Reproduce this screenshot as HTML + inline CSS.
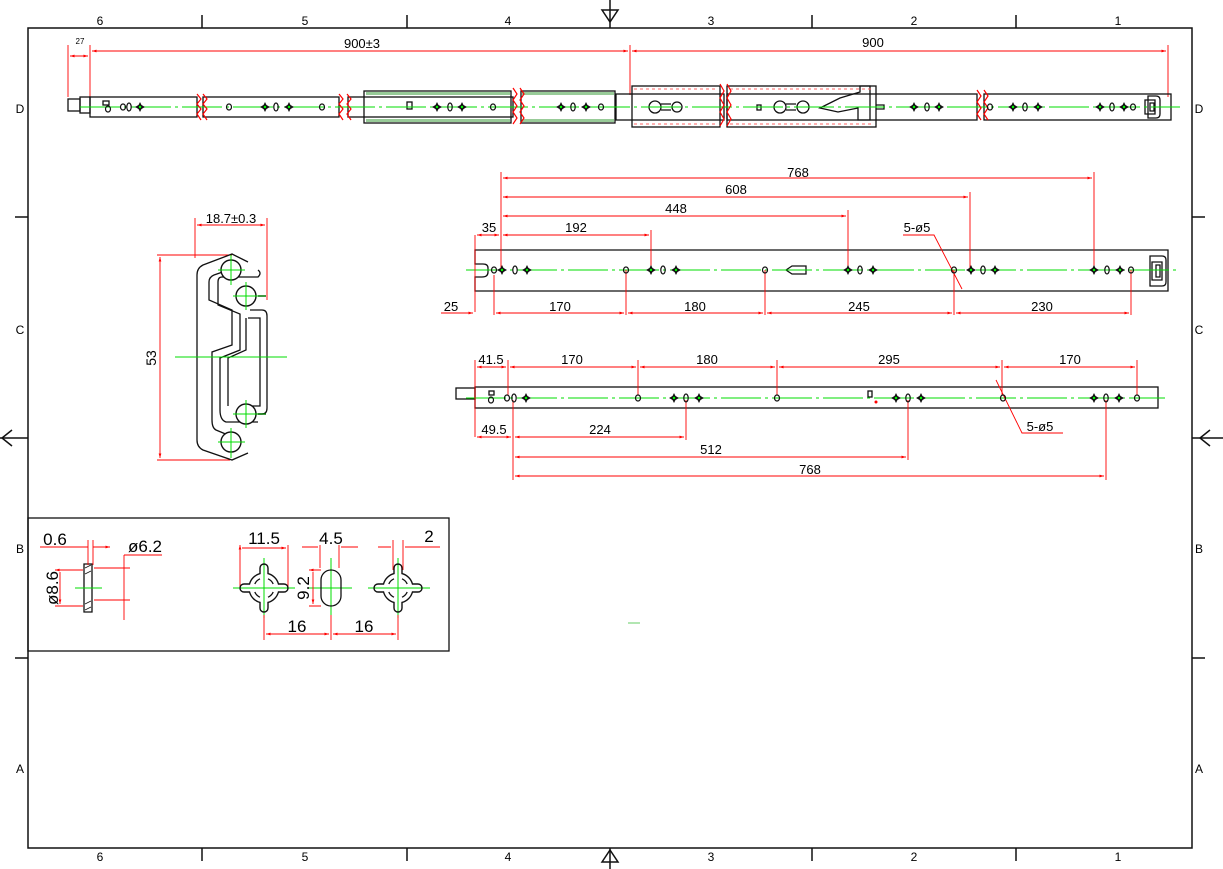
<!DOCTYPE html>
<html><head><meta charset="utf-8"><style>
html,body{margin:0;padding:0;background:#fff}
svg{display:block}
text{font-family:"Liberation Sans",sans-serif;fill:#000}
.k{stroke:#111;fill:none;stroke-width:1.3}
.r{stroke:#f00;fill:none;stroke-width:0.9}
.g{stroke:#0d0;fill:none;stroke-width:1;}
.gd{stroke:#0d0;fill:none;stroke-width:1;stroke-dasharray:40 4 3 4}
</style></head><body>
<svg width="1223" height="869" viewBox="0 0 1223 869" xmlns="http://www.w3.org/2000/svg">
<defs>
<g id="x"><path d="M0,-5 L1.5,-2 L5,0 L1.5,2 L0,5 L-1.5,2 L-5,0 L-1.5,-2Z" fill="#111"/><circle r="1.2" fill="#0f0"/></g>
<g id="o"><ellipse rx="2.5" ry="3" fill="none" stroke="#111" stroke-width="1.2"/></g>
<g id="s"><ellipse rx="2.2" ry="4" fill="none" stroke="#111" stroke-width="1.2"/></g>
<marker id="a" viewBox="0 0 10 10" refX="10" refY="5" markerWidth="7" markerHeight="5" orient="auto-start-reverse"><path d="M0,2 L10,5 L0,8Z" fill="#f00"/></marker>
<g id="ch">
<path d="M4,-14.46 L4,-20 A4,4 0 0 0 -4,-20 L-4,-14.46 A15,15 0 0 0 -14.46,-4 L-20,-4 A4,4 0 0 0 -20,4 L-14.46,4 A15,15 0 0 0 -4,14.46 L-4,20 A4,4 0 0 0 4,20 L4,14.46 A15,15 0 0 0 14.46,4 L20,4 A4,4 0 0 0 20,-4 L14.46,-4 A15,15 0 0 0 4,-14.46Z" fill="none" stroke="#111" stroke-width="1.4"/>
<path d="M4,-9.2 A10,10 0 0 1 9.2,-4 M9.2,4 A10,10 0 0 1 4,9.2 M-4,9.2 A10,10 0 0 1 -9.2,4 M-9.2,-4 A10,10 0 0 1 -4,-9.2" fill="none" stroke="#111" stroke-width="1.3"/>
</g>
</defs>

<!-- frame -->
<g stroke="#111" stroke-width="1.5" fill="none">
<rect x="28" y="28" width="1164" height="820"/>
<path d="M202,15V28 M407,15V28 M812,15V28 M1016,15V28 M202,848V861 M407,848V861 M812,848V861 M1016,848V861 M15,217H28 M15,658H28 M1192,217H1205 M1192,658H1205"/>
<path d="M610,0V28 M610,848V869 M0,438H28 M1192,438H1223"/>
<path d="M602,10 L610,22 L618,10Z M602,862 L610,850 L618,862Z M12,430 L2,438 L12,446 M1210,430 L1200,438 L1210,446"/>
</g>
<g font-size="12" text-anchor="middle">
<text x="100" y="25">6</text><text x="305" y="25">5</text><text x="508" y="25">4</text><text x="711" y="25">3</text><text x="914" y="25">2</text><text x="1118" y="25">1</text>
<text x="100" y="861">6</text><text x="305" y="861">5</text><text x="508" y="861">4</text><text x="711" y="861">3</text><text x="914" y="861">2</text><text x="1118" y="861">1</text>
<text x="20" y="113">D</text><text x="20" y="334">C</text><text x="20" y="553">B</text><text x="20" y="773">A</text>
<text x="1199" y="113">D</text><text x="1199" y="334">C</text><text x="1199" y="553">B</text><text x="1199" y="773">A</text>
</g>

<!-- TOP RAIL -->
<g class="r">
<path d="M68,45V97 M90,45V97 M630,45V95 M1168,45V97"/>
<path d="M70,56H88" marker-start="url(#a)" marker-end="url(#a)"/>
<path d="M92,51H628" marker-start="url(#a)" marker-end="url(#a)"/>
<path d="M632,51H1166" marker-start="url(#a)" marker-end="url(#a)"/>
</g>
<text x="80" y="44" font-size="8" text-anchor="middle">27</text>
<text x="362" y="48" font-size="13" text-anchor="middle">900±3</text>
<text x="873" y="47" font-size="13" text-anchor="middle">900</text>
<g class="k">
<rect x="68" y="99" width="12" height="12"/><rect x="80" y="97" width="10" height="16"/>
<rect x="90" y="97" width="107" height="20"/>
<rect x="203" y="97" width="136" height="20"/>
<rect x="348" y="97" width="165" height="20"/>
<rect x="364" y="91" width="147" height="32"/>
<rect x="521" y="91" width="94" height="32"/>
<rect x="616" y="94" width="108" height="26"/>
<rect x="632" y="86" width="88" height="41"/>
<rect x="727" y="86" width="149" height="41"/>
<rect x="727" y="94" width="250" height="26"/>
<rect x="984" y="94" width="187" height="26"/>
<path d="M1148,96 h8 q4,0 4,4 v14 q0,4 -4,4 h-8z M1145,100 h10 v14 h-10z M1150,103 h4 v8 h-4z"/>
<rect x="103" y="101" width="6" height="4"/>
<rect x="407" y="102" width="5" height="7"/>
<rect x="757" y="105" width="4" height="5"/>
<circle cx="655" cy="107" r="6"/><path d="M661,104 h10 M661,110 h10"/><circle cx="677" cy="107" r="5"/>
<circle cx="780" cy="107" r="6"/><path d="M786,104 h10 M786,110 h10"/><circle cx="803" cy="107" r="6"/>
<path d="M820,108 l20,-10 l20,-6 l0,-6 l10,0 l0,34 l-12,0 l0,-12 l-20,4z"/>
<path d="M876,105 h8 v4 h-8"/>
</g>
<g fill="#5a5" opacity=".6"><rect x="366" y="92" width="144" height="3"/><rect x="366" y="119" width="144" height="3"/><rect x="522" y="92" width="92" height="3"/><rect x="522" y="119" width="92" height="3"/></g>
<g stroke="#f66" stroke-dasharray="3 3"><path d="M634,89H718 M634,124H718 M730,89H874 M730,124H874"/></g>
<path class="gd" d="M80,107H1180"/>
<g stroke="#f00" stroke-width="1.2" fill="none">
<path d="M197,94 l4,5 -4,5 4,5 -4,5 4,6 M203,94 l4,5 -4,5 4,5 -4,5 4,6"/>
<path d="M339,94 l4,5 -4,5 4,5 -4,5 4,6 M347,94 l4,5 -4,5 4,5 -4,5 4,6"/>
<path d="M513,88 l4,6 -4,6 4,6 -4,6 4,6 -4,6 M520,88 l4,6 -4,6 4,6 -4,6 4,6 -4,6"/>
<path d="M720,84 l4,7 -4,7 4,7 -4,7 4,7 -4,7 M727,84 l4,7 -4,7 4,7 -4,7 4,7 -4,7"/>
<path d="M977,90 l4,6 -4,6 4,6 -4,6 4,6 M984,90 l4,6 -4,6 4,6 -4,6 4,6"/>
</g>
<use href="#o" x="108" y="109"/><use href="#o" x="123" y="107"/><use href="#s" x="129" y="107"/><use href="#x" x="140" y="107"/>
<use href="#o" x="229" y="107"/><use href="#x" x="265" y="107"/><use href="#s" x="276" y="107"/><use href="#x" x="289" y="107"/><use href="#o" x="322" y="107"/>
<use href="#x" x="437" y="107"/><use href="#s" x="450" y="107"/><use href="#x" x="462" y="107"/><use href="#o" x="493" y="107"/>
<use href="#x" x="561" y="107"/><use href="#s" x="573" y="107"/><use href="#x" x="586" y="107"/><use href="#o" x="601" y="107"/>
<use href="#x" x="914" y="107"/><use href="#s" x="927" y="107"/><use href="#x" x="939" y="107"/>
<use href="#o" x="990" y="107"/><use href="#x" x="1013" y="107"/><use href="#s" x="1025" y="107"/><use href="#x" x="1038" y="107"/>
<use href="#x" x="1100" y="107"/><use href="#s" x="1112" y="107"/><use href="#x" x="1124" y="107"/><use href="#o" x="1133" y="107"/>

<!-- PROFILE -->
<g class="r">
<path d="M195,218V258 M267,218V300 M157,255H232 M157,460H230"/>
<path d="M197,225H265" marker-start="url(#a)" marker-end="url(#a)"/>
<path d="M160,257V458" marker-start="url(#a)" marker-end="url(#a)"/>
</g>
<text x="231" y="223" font-size="13" text-anchor="middle">18.7±0.3</text>
<text x="156" y="358" font-size="14" text-anchor="middle" transform="rotate(-90 156 358)">53</text>
<g class="k" stroke-width="1.6">
<path d="M248,262 L232,254 L203,265 Q197,268 197,275 V440 Q197,447 203,450 L232,460 L248,453"/>
<path d="M240,266 L214,275 Q209,277 209,282 V300 L232,310 V345 L212,352 V420 Q212,428 216,430 L240,440"/>
<path d="M258,270 Q262,273 258,277 L222,277 Q218,277 218,282 V305 L240,314 V350 L220,358 V410 Q220,420 226,422 L258,422"/>
<path d="M250,310 L262,310 Q267,310 267,316 V408 Q267,414 262,414 L250,414"/>
<path d="M248,318 L260,318 V406 L248,406 M228,406 V358 L246,350 V318"/>
</g>
<g stroke="#111" stroke-width="1.4" fill="#fff">
<circle cx="231" cy="270" r="10"/><circle cx="246" cy="296" r="10"/><circle cx="246" cy="414" r="10"/><circle cx="231" cy="442" r="10"/>
</g>
<g class="g"><path d="M175,357H287 M231,255V285 M218,270H245 M246,282V310 M233,296H262 M246,400V428 M233,414H262 M231,428V458 M218,442H245"/></g>
<path d="M258,296h8 M258,414h8" stroke="#070" stroke-width="1.4"/>

<!-- RAIL 1 -->
<g class="k">
<path d="M475,250H1168V291H475V277 L482,277 Q488,277 488,272 V268 Q488,264 483,264 H475Z"/>
<path d="M1150,256 h12 q4,0 4,4 v22 q0,4 -4,4 h-12z M1152,262 h10 v18 h-10z M1156,265 h4 v12 h-4z"/>
<path d="M786,270 l6,-4 h14 v8 h-14z"/>
</g>
<path class="gd" d="M466,270H1176"/>
<g class="r">
<path d="M475,235V312 M501,172V268 M651,230V268 M848,210V268 M970,192V268 M1094,172V268 M494,275V315 M626,270V315 M765,270V315 M954,270V315 M1131,270V315"/>
<path d="M503,178H1092" marker-start="url(#a)" marker-end="url(#a)"/>
<path d="M503,197H968" marker-start="url(#a)" marker-end="url(#a)"/>
<path d="M503,216H846" marker-start="url(#a)" marker-end="url(#a)"/>
<path d="M503,235H649" marker-start="url(#a)" marker-end="url(#a)"/>
<path d="M477,235H499" marker-start="url(#a)" marker-end="url(#a)"/>
<path d="M441,313H473" marker-end="url(#a)"/>
<path d="M496,313H624" marker-start="url(#a)" marker-end="url(#a)"/>
<path d="M628,313H763" marker-start="url(#a)" marker-end="url(#a)"/>
<path d="M767,313H952" marker-start="url(#a)" marker-end="url(#a)"/>
<path d="M956,313H1129" marker-start="url(#a)" marker-end="url(#a)"/>
<path d="M903,235H934 L962,289"/>
</g>
<g font-size="13" text-anchor="middle">
<text x="798" y="177">768</text><text x="736" y="194">608</text><text x="676" y="213">448</text><text x="576" y="232">192</text><text x="489" y="232">35</text>
<text x="451" y="311">25</text><text x="560" y="311">170</text><text x="695" y="311">180</text><text x="859" y="311">245</text><text x="1042" y="311">230</text>
<text x="917" y="232">5-ø5</text>
</g>
<use href="#o" x="494" y="270"/><use href="#x" x="502" y="270"/><use href="#s" x="515" y="270"/><use href="#x" x="527" y="270"/>
<use href="#o" x="626" y="270"/><use href="#x" x="651" y="270"/><use href="#s" x="663" y="270"/><use href="#x" x="676" y="270"/>
<use href="#o" x="765" y="270"/>
<use href="#x" x="848" y="270"/><use href="#s" x="860" y="270"/><use href="#x" x="873" y="270"/>
<use href="#o" x="954" y="270"/><use href="#x" x="971" y="270"/><use href="#s" x="983" y="270"/><use href="#x" x="995" y="270"/>
<use href="#x" x="1094" y="270"/><use href="#s" x="1107" y="270"/><use href="#x" x="1120" y="270"/><use href="#o" x="1131" y="270"/>

<!-- RAIL 2 -->
<g class="k">
<rect x="456" y="388" width="19" height="11"/>
<rect x="475" y="387" width="683" height="21"/>
<rect x="489" y="391" width="5" height="4"/>
<rect x="868" y="391" width="4" height="6"/>
</g>
<path class="gd" d="M466,398H1165"/>
<g class="r">
<path d="M475,360V437 M508,360V395 M638,360V395 M777,360V395 M1002,360V395 M1137,360V395 M513,400V480 M686,400V440 M908,400V460 M1106,400V480"/>
<path d="M477,367H506" marker-start="url(#a)" marker-end="url(#a)"/>
<path d="M510,367H636" marker-start="url(#a)" marker-end="url(#a)"/>
<path d="M640,367H775" marker-start="url(#a)" marker-end="url(#a)"/>
<path d="M779,367H1000" marker-start="url(#a)" marker-end="url(#a)"/>
<path d="M1004,367H1135" marker-start="url(#a)" marker-end="url(#a)"/>
<path d="M477,437H511" marker-start="url(#a)" marker-end="url(#a)"/>
<path d="M515,437H684" marker-start="url(#a)" marker-end="url(#a)"/>
<path d="M515,457H906" marker-start="url(#a)" marker-end="url(#a)"/>
<path d="M515,476H1104" marker-start="url(#a)" marker-end="url(#a)"/>
<path d="M996,380 L1022,433 H1063"/>
</g>
<g font-size="13" text-anchor="middle">
<text x="491" y="364">41.5</text><text x="572" y="364">170</text><text x="707" y="364">180</text><text x="889" y="364">295</text><text x="1070" y="364">170</text>
<text x="494" y="434">49.5</text><text x="600" y="434">224</text><text x="711" y="454">512</text><text x="810" y="474">768</text>
<text x="1040" y="431">5-ø5</text>
</g>
<use href="#o" x="491" y="400"/><use href="#o" x="507" y="398"/><use href="#s" x="514" y="398"/><use href="#x" x="526" y="398"/>
<use href="#o" x="638" y="398"/><use href="#x" x="674" y="398"/><use href="#s" x="686" y="398"/><use href="#x" x="699" y="398"/>
<use href="#o" x="777" y="398"/>
<use href="#x" x="896" y="398"/><use href="#s" x="908" y="398"/><use href="#x" x="921" y="398"/>
<use href="#o" x="1003" y="398"/>
<use href="#x" x="1094" y="398"/><use href="#s" x="1106" y="398"/><use href="#x" x="1119" y="398"/><use href="#o" x="1137" y="398"/>
<circle cx="876" cy="402" r="1.5" fill="#f00"/>

<!-- DETAIL BOX -->
<rect x="28" y="518" width="421" height="133" fill="none" stroke="#111" stroke-width="1.3"/>
<g class="k">
<path d="M84,564 H92 V612 H84Z"/>
</g>
<g stroke="#111" stroke-width="0.8"><path d="M85,568 l6,-3 M85,574 l6,-3 M85,604 l6,-3 M85,610 l6,-3"/></g>
<g class="g"><path d="M75,588H102 M264,558V618 M233,588H295 M331,558V615 M308,588H352 M398,558V618 M368,588H430"/></g>
<g class="r">
<path d="M40,547H88 M93,547H110" marker-end="url(#a)"/>
<path d="M88,540V565 M93,540V565"/>
<path d="M124,555H162 M124,555V620" />
<path d="M94,568H130 M94,600H130"/>
<path d="M55,570H83 M55,606H83 M60,572V604" marker-start="url(#a)" marker-end="url(#a)"/>
<path d="M240,545V588 M288,545V588 M242,548H286" marker-start="url(#a)" marker-end="url(#a)"/>
<path d="M320,545V568 M339,545V568 M302,547H318 M341,547H358"/>
<path d="M393,540V570 M403,540V570 M378,547H391 M405,547H440"/>
<path d="M309,570H321 M309,606H321 M313,572V604" marker-start="url(#a)" marker-end="url(#a)"/>
<path d="M264,615V640 M331,615V640 M398,615V640"/>
<path d="M266,634H329" marker-start="url(#a)" marker-end="url(#a)"/>
<path d="M333,634H396" marker-start="url(#a)" marker-end="url(#a)"/>
</g>
<use href="#ch" x="264" y="588"/>
<use href="#ch" x="398" y="588"/>
<rect x="321" y="570" width="20" height="36" rx="10" fill="none" stroke="#111" stroke-width="1.3"/>
<g font-size="17" text-anchor="middle">
<text x="55" y="545">0.6</text><text x="145" y="552">ø6.2</text>
<text x="264" y="544">11.5</text><text x="331" y="544">4.5</text><text x="429" y="542">2</text>
<text x="297" y="632">16</text><text x="364" y="632">16</text>
<text x="52" y="594" transform="rotate(-90 52 588)">ø8.6</text>
<text x="303" y="594" transform="rotate(-90 303 588)">9.2</text>
</g>
<path d="M628,623h12" stroke="#6c6" stroke-width="1"/>
</svg>
</body></html>
